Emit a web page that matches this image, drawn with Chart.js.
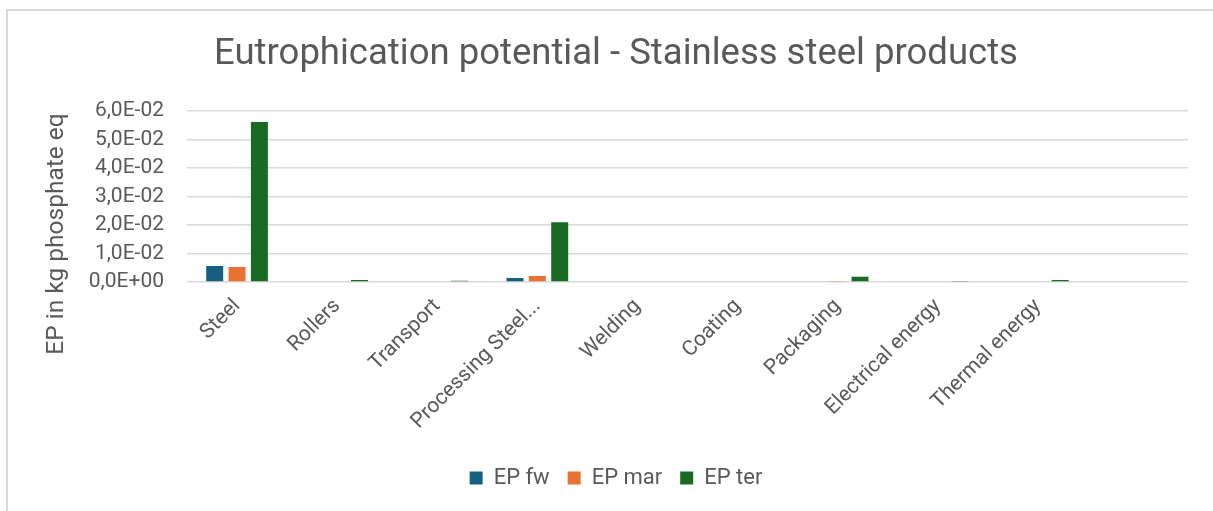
<!DOCTYPE html>
<html>
<head>
<meta charset="utf-8">
<script src="https://cdn.jsdelivr.net/npm/chart.js@4.4.1/dist/chart.umd.min.js"></script>
<style>
  html, body { margin: 0; padding: 0; background: #fff; overflow: hidden; }
  #frame {
    position: absolute; left: 6px; top: 9px;
    width: 1400px; height: 700px;
    border: 2px solid #d9d9d9;
  }
  #chartEP { position: absolute; left: 0; top: 0; }
</style>
</head>
<body>
<div id="frame"></div>
<canvas id="chartEP" width="1213" height="511"></canvas>
<script>
// === ДАННЫЕ ===
const categories = ['Steel', 'Rollers', 'Transport', 'Processing Steel...', 'Welding',
  'Coating', 'Packaging', 'Electrical energy', 'Thermal energy', ''];
const epFw  = [0.0056, 0, 0, 0.0014, 0, 0, 0, 0, 0, null];
const epMar = [0.0053, 0, 0, 0.0021, 0, 0, 0.0002, 0, 0, null];
const epTer = [0.0561, 0.0007, 0.0004, 0.0209, 0, 0.0003, 0.0018, 0.0002, 0.0007, null];
const yTicks = [0, 0.01, 0.02, 0.03, 0.04, 0.05, 0.06];

const textColor = '#595959';
const gridColor = '#d9d9d9';
const fontFamily = 'Roboto, "Open Sans", sans-serif';

// 6,0E-02 — формат как в Excel
function sciLabel(v) {
  const [m, e] = v.toExponential(1).split('e');
  const exp = parseInt(e, 10);
  const sign = exp < 0 ? '-' : '+';
  return m.replace('.', ',') + 'E' + sign + String(Math.abs(exp)).padStart(2, '0');
}

// Подпись оси Y рисуем сами, чтобы поставить её по центру как нужно
const yTitlePlugin = {
  id: 'yTitle',
  afterDraw(chart) {
    const ctx = chart.ctx;
    ctx.save();
    ctx.translate(57, 234);
    ctx.rotate(-Math.PI / 2);
    ctx.font = '24.5px ' + fontFamily;
    ctx.fillStyle = textColor;
    ctx.textAlign = 'center';
    ctx.textBaseline = 'middle';
    ctx.fillText('EP in kg phosphate eq', 0, 0);
    ctx.restore();
  }
};

function makeSet(label, data, color) {
  return {
    label, data,
    backgroundColor: color,
    borderWidth: 0,
    categoryPercentage: 0.67,
    barPercentage: 0.76
  };
}

new Chart(document.getElementById('chartEP'), {
  type: 'bar',
  data: {
    labels: categories,
    datasets: [
      makeSet('EP fw', epFw, '#156082'),
      makeSet('EP mar', epMar, '#E97132'),
      makeSet('EP ter', epTer, '#196B24')
    ]
  },
  options: {
    responsive: false,
    animation: false,
    // слева 44 + ширина оси 143 = 187, заголовок и легенда центрируются около 616
    layout: { padding: { left: 44, right: 25, top: 0, bottom: 12 } },
    plugins: {
      title: {
        display: true,
        text: 'Eutrophication potential - Stainless steel products',
        color: textColor,
        font: { family: fontFamily, size: 36.5, weight: 'normal', lineHeight: 1.2 },
        padding: { top: 33, bottom: 34 }
      },
      legend: {
        position: 'bottom',
        labels: {
          color: textColor,
          font: { family: fontFamily, size: 22, lineHeight: 1.2 },
          boxWidth: 13,
          boxHeight: 13,
          padding: 18
        }
      },
      tooltip: { enabled: false }
    },
    scales: {
      x: {
        grid: { display: false },
        border: { display: false },
        ticks: {
          color: textColor,
          font: { family: fontFamily, size: 21 },
          autoSkip: false,
          minRotation: 45,
          maxRotation: 45,
          padding: 4
        },
        afterFit(scale) { scale.height = 167; }
      },
      y: {
        min: 0,
        max: 0.06,
        afterBuildTicks(scale) { scale.ticks = yTicks.map(v => ({ value: v })); },
        grid: { color: gridColor, lineWidth: 1.5, drawTicks: false },
        border: { display: false },
        ticks: {
          color: textColor,
          font: { family: fontFamily, size: 21 },
          autoSkip: false,
          padding: 23,
          callback: v => sciLabel(v)
        },
        afterFit(scale) { scale.width = 143; }
      }
    }
  },
  plugins: [yTitlePlugin]
});
</script>
</body>
</html>
